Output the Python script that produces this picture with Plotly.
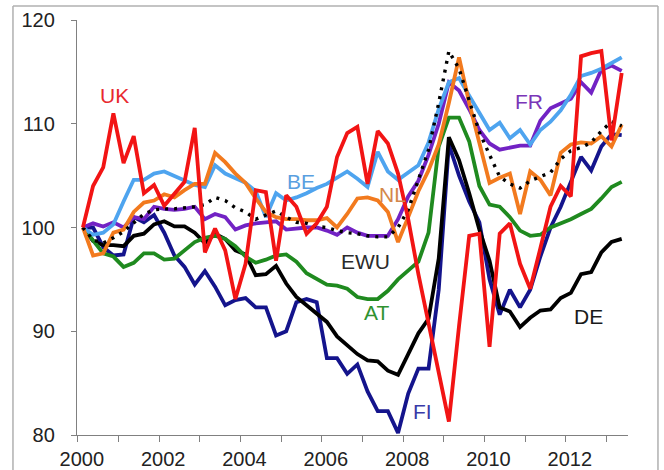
import plotly.graph_objects as go

# quarterly observations 2000Q1 .. 2013Q2 (plotted at mid-quarter)
start_year = 2000
n_quarters = 54

UK = [100, 104.0, 105.8, 111.0, 106.2, 108.8, 103.3, 104.1, 102.1, 103.2, 104.4, 109.6,
      97.6, 99.9, 97.8, 93.1, 96.5, 103.6, 103.4, 96.8, 103.1, 102.0, 99.4, 100.4,
      102.0, 106.8, 109.1, 109.7, 104.2, 109.3, 108.1, 105.2, 100.8, 95.5, 90.8, 86.0,
      81.3, 90.5, 99.2, 99.4, 88.5, 99.4, 100.4, 96.5, 94.1, 98.0, 102.0, 104.0,
      103.0, 116.5, 116.8, 117.0, 108.4, 114.9]
BE = [100, 99.3, 99.5, 100.3, 102.5, 104.6, 104.6, 105.2, 105.4, 105.0, 104.6, 104.1,
      103.9, 106.0, 105.2, 104.7, 104.3, 103.5, 101.0, 103.3, 102.6, 102.9, 103.3, 103.8,
      104.2, 104.8, 105.4, 104.7, 103.9, 107.3, 105.4, 104.6, 105.3, 106.0, 108.2, 111.4,
      114.0, 114.4, 112.7, 111.0, 109.4, 110.1, 108.6, 109.4, 108.0, 109.4, 110.2, 111.3,
      112.8, 114.6, 114.9, 115.3, 115.8, 116.4]
NL = [100, 97.3, 97.5, 99.5, 99.8, 101.5, 102.4, 102.6, 103.2, 102.9, 103.6, 104.2,
      104.2, 107.2, 106.3, 105.2, 104.3, 102.8, 101.5, 101.0, 100.8, 100.8, 100.7, 100.7,
      100.9, 100.0, 101.3, 102.8, 102.9, 102.6, 101.5, 98.6, 101.0, 103.5, 105.5, 108.0,
      112.0, 116.4, 112.0, 108.0, 104.3, 104.8, 105.2, 101.3, 105.4, 104.6, 103.1, 107.2,
      108.0, 108.2, 108.1, 108.8, 107.8, 109.9]
FR = [100, 100.4, 100.1, 100.5, 100.0, 101.0, 100.8, 102.0, 101.8, 101.7, 101.8, 102.0,
      100.8, 101.3, 101.0, 99.8, 100.2, 100.4, 100.5, 100.6, 99.8, 99.9, 100.0, 100.0,
      99.7, 99.3, 100.0, 99.5, 99.2, 99.2, 99.2, 100.8, 103.0, 104.5, 107.0, 110.0,
      114.0, 113.2, 111.4, 109.4, 108.1, 107.5, 107.7, 107.9, 107.9, 110.3, 111.5, 112.0,
      112.4, 114.0, 113.0, 115.2, 115.6, 115.1]
EWU = [100, 98.8, 98.5, 99.0, 99.6, 100.5, 101.3, 101.7, 101.8, 101.8, 101.9, 102.0,
       102.2, 102.9, 102.6, 101.9, 101.5, 100.8, 101.2, 101.6, 101.0, 100.5, 100.4, 100.1,
       100.0, 99.7, 99.5, 99.4, 99.2, 99.1, 99.1, 100.0, 101.7, 104.5, 107.5, 112.0,
       117.0, 115.3, 112.2, 109.2, 107.0, 104.9, 104.2, 103.8, 104.5, 104.9, 105.3, 106.6,
       107.4, 107.7, 108.2, 109.3, 110.2, 109.8]
AT = [100, 98.8, 97.5, 97.2, 96.2, 96.6, 97.5, 97.5, 96.9, 97.0, 97.8, 98.6,
      99.0, 99.2, 98.9, 98.2, 97.2, 96.6, 96.9, 97.3, 97.4, 96.7, 95.6, 95.0,
      94.5, 94.4, 94.1, 93.3, 93.1, 93.1, 93.9, 95.0, 95.8, 96.7, 99.5, 107.8,
      110.6, 110.6, 108.3, 104.0, 102.2, 102.0, 101.0, 99.7, 99.2, 99.3, 100.0, 100.4,
      100.8, 101.3, 101.8, 102.8, 103.9, 104.4]
DE = [100, 98.7, 98.3, 98.3, 98.2, 99.2, 99.4, 100.3, 100.6, 100.1, 100.1, 99.5,
      98.5, 99.4, 98.9, 97.8, 97.4, 95.4, 95.5, 96.3, 94.6, 93.3, 92.5, 91.7,
      90.9, 89.5, 88.7, 87.8, 87.2, 87.1, 86.2, 85.8, 87.8, 89.8, 91.2, 97.0,
      108.7, 106.5, 103.3, 99.8, 96.8, 92.3, 91.9, 90.4, 91.3, 92.0, 92.1, 93.2,
      93.7, 95.5, 95.7, 97.6, 98.6, 98.9]
FI = [100, 100.0, 98.1, 97.3, 97.4, 101.0, 100.5, 101.2, 99.5, 97.3, 96.2, 94.5,
      95.8, 94.3, 92.5, 93.0, 93.2, 92.3, 92.3, 89.6, 90.0, 92.8, 93.1, 92.8,
      87.4, 87.4, 85.9, 86.8, 84.2, 82.3, 82.3, 80.2, 84.0, 86.4, 86.4, 94.0,
      108.0, 105.0, 102.5, 100.5, 95.0, 91.6, 94.0, 92.3, 94.0, 97.2, 100.0, 102.0,
      104.4, 106.8, 105.5, 107.8, 109.0, 108.9]

x_dates = [start_year + 0.125 + 0.25 * k for k in range(n_quarters)]

tick_years = list(range(2000, 2014))
tick_text = [str(y) if y % 2 == 0 else "" for y in tick_years]
y_ticks = [80, 90, 100, 110, 120]

series = [
    ("FI", FI, "#14148c", "solid"),
    ("DE", DE, "#000000", "solid"),
    ("AT", AT, "#1f8a1f", "solid"),
    ("FR", FR, "#7222c4", "solid"),
    ("BE", BE, "#4ea4ef", "solid"),
    ("NL", NL, "#f27a1e", "solid"),
    ("EWU", EWU, "#000000", "3px,6px"),
    ("UK", UK, "#f21414", "solid"),
]

fig = go.Figure()
for name, vals, col, dash in series:
    fig.add_trace(go.Scatter(
        x=x_dates, y=vals, mode="lines", name=name,
        line=dict(color=col, width=3.8 if dash == "solid" else 3.4, dash=dash),
        showlegend=False, hoverinfo="skip"))

labels = [
    ("UK", 2000.91, 112.7, "#e8282e"),
    ("BE", 2005.48, 104.4, "#5a9fe0"),
    ("NL", 2007.75, 103.2, "#d4874a"),
    ("FR", 2011.09, 112.1, "#7a36b8"),
    ("EWU", 2007.08, 96.7, "#2a2a2a"),
    ("AT", 2007.35, 91.8, "#2f922f"),
    ("DE", 2012.56, 91.4, "#1a1a1a"),
    ("FI", 2008.48, 82.3, "#3a3aa8"),
]
for txt, lx, ly, col in labels:
    fig.add_annotation(x=lx, y=ly, xref="x", yref="y", text=txt, showarrow=False,
                       font=dict(family="Liberation Sans, Arial", size=21, color=col))

# outer frame of the original picture (left, top, right edges)
frame_style = dict(color="#b0b0b0", width=1.5)
fig.add_shape(type="line", xref="paper", yref="paper", x0=-0.1162, x1=-0.1162,
              y0=1.0337, y1=-0.09, line=frame_style)
fig.add_shape(type="line", xref="paper", yref="paper", x0=-0.1162, x1=1.0544,
              y0=1.0337, y1=1.0337, line=frame_style)
fig.add_shape(type="line", xref="paper", yref="paper", x0=1.0544, x1=1.0544,
              y0=1.0337, y1=-0.09, line=frame_style)

fig.update_layout(
    width=664, height=470,
    margin=dict(l=77, r=36, t=20, b=35, autoexpand=False),
    paper_bgcolor="white", plot_bgcolor="white",
    font=dict(family="Liberation Sans, Arial", size=20, color="#222222"),
    xaxis=dict(range=[1999.98, 2013.53], tickmode="array", tickvals=tick_years,
               ticktext=tick_text, ticks="outside", ticklen=6, tickcolor="#808080",
               tickwidth=1.3, showline=True, linecolor="#808080", linewidth=1.3,
               showgrid=False, zeroline=False, ticklabelshift=4, automargin=False,
               tickfont=dict(size=20, color="#222222")),
    yaxis=dict(range=[80, 120], tickmode="array", tickvals=y_ticks,
               ticks="outside", ticklen=5, tickcolor="#808080", tickwidth=1.3,
               showline=True, linecolor="#808080", linewidth=1.3,
               showgrid=False, zeroline=False, ticklabelstandoff=12, automargin=False,
               tickfont=dict(size=20, color="#222222")),
)

fig.write_html("out.html", config={"displayModeBar": False},
               post_script="document.body.style.margin='0';document.body.style.overflow='hidden';")
